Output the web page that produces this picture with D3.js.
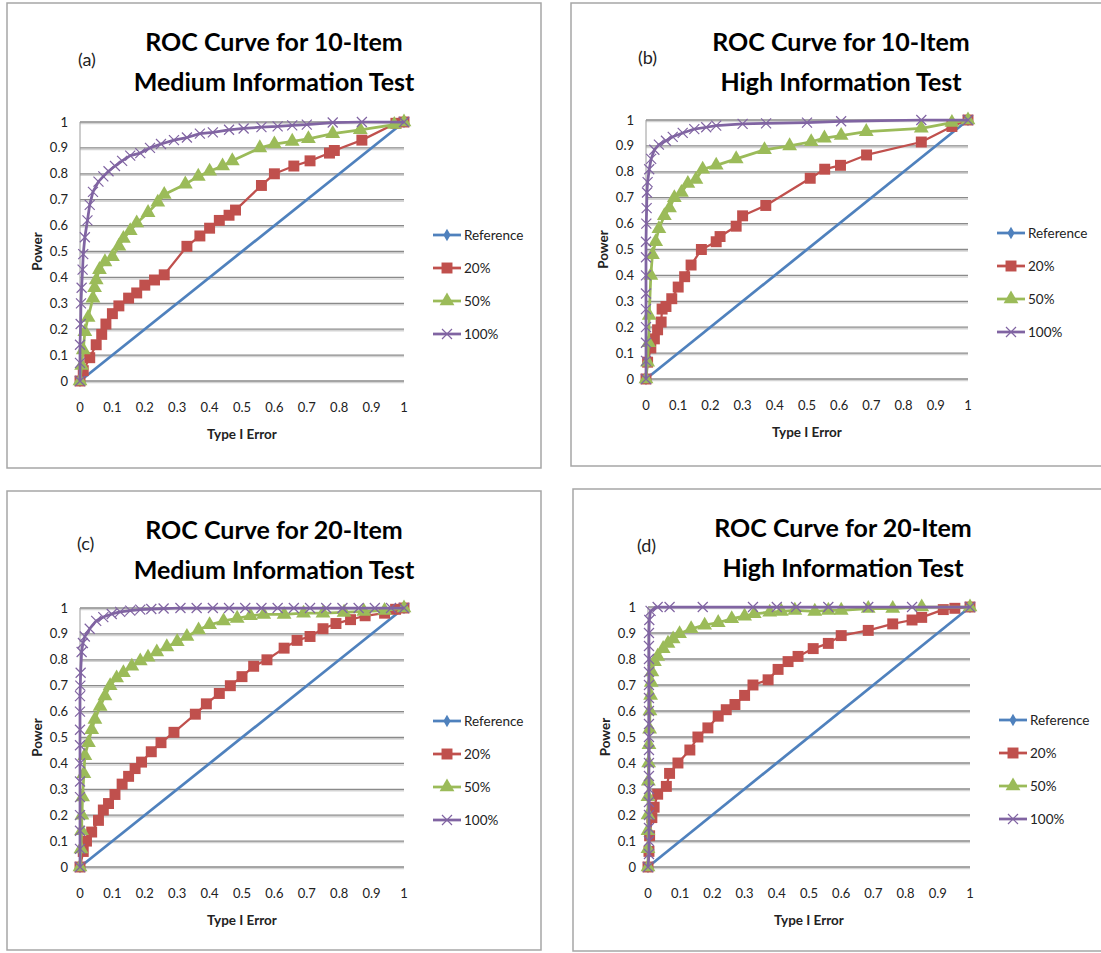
<!DOCTYPE html>
<html>
<head>
<meta charset="utf-8">
<script src="https://cdn.jsdelivr.net/npm/d3@7"></script>
<style>
  body { margin: 0; background: #fff; }
  svg { display: block; font-family: Lato, "Open Sans", sans-serif; }
</style>
</head>
<body>
<div id="chart"></div>
<script>
// ---- data ----

var xTicks = [0, 0.1, 0.2, 0.3, 0.4, 0.5, 0.6, 0.7, 0.8, 0.9, 1];
var yTicks = [0, 0.1, 0.2, 0.3, 0.4, 0.5, 0.6, 0.7, 0.8, 0.9, 1];
var seriesNames = ["Reference", "20%", "50%", "100%"];
var panelLetters = ["(a)", "(b)", "(c)", "(d)"];
var titleLine1 = ["ROC Curve for 10-Item", "ROC Curve for 10-Item", "ROC Curve for 20-Item", "ROC Curve for 20-Item"];
var titleLine2 = ["Medium Information Test", "High Information Test", "Medium Information Test", "High Information Test"];

var reference = [[0, 0], [1, 1]];

// (a) 10-item medium
var a20 = [[0,0],[0.01,0.04],[0.03,0.09],[0.05,0.14],[0.067,0.18],[0.08,0.22],[0.1,0.26],[0.12,0.29],[0.15,0.32],
  [0.175,0.34],[0.2,0.37],[0.23,0.39],[0.26,0.41],[0.33,0.52],[0.37,0.56],[0.4,0.59],[0.43,0.62],[0.46,0.64],
  [0.48,0.66],[0.56,0.755],[0.6,0.8],[0.66,0.83],[0.71,0.85],[0.77,0.88],[0.785,0.89],[0.87,0.93],[0.975,0.995],[1,1]];
var a50 = [[0,0],[0.005,0.06],[0.01,0.12],[0.015,0.19],[0.025,0.245],[0.04,0.32],[0.045,0.36],[0.05,0.39],[0.06,0.43],
  [0.077,0.46],[0.1,0.48],[0.12,0.52],[0.134,0.55],[0.155,0.58],[0.175,0.61],[0.21,0.65],[0.24,0.69],[0.26,0.72],
  [0.325,0.76],[0.365,0.79],[0.4,0.81],[0.44,0.83],[0.47,0.85],[0.555,0.9],[0.6,0.915],[0.655,0.925],[0.705,0.935],
  [0.78,0.955],[0.865,0.97],[0.97,0.99],[1,1]];
var a100 = [[0,0],[0,0.07],[0,0.14],[0.002,0.22],[0.003,0.3],[0.005,0.36],[0.008,0.43],[0.01,0.49],[0.015,0.555],
  [0.023,0.62],[0.03,0.68],[0.04,0.73],[0.057,0.77],[0.072,0.79],[0.088,0.81],[0.108,0.83],[0.13,0.85],[0.155,0.87],
  [0.186,0.88],[0.216,0.9],[0.25,0.915],[0.29,0.93],[0.33,0.94],[0.37,0.955],[0.41,0.96],[0.46,0.97],[0.505,0.975],
  [0.56,0.98],[0.61,0.983],[0.655,0.987],[0.7,0.99],[0.78,0.998],[0.87,1],[1,1]];

// (b) 10-item high
var b20 = [[0,0],[0.005,0.065],[0.015,0.12],[0.026,0.155],[0.036,0.19],[0.047,0.22],[0.05,0.27],[0.062,0.28],
  [0.08,0.31],[0.1,0.355],[0.12,0.395],[0.14,0.44],[0.172,0.5],[0.218,0.53],[0.23,0.55],[0.28,0.59],[0.3,0.63],
  [0.372,0.67],[0.51,0.775],[0.555,0.81],[0.604,0.825],[0.685,0.865],[0.855,0.915],[0.95,0.975],[1,1]];
var b50 = [[0,0],[0.005,0.065],[0.008,0.14],[0.01,0.245],[0.015,0.4],[0.02,0.48],[0.03,0.53],[0.04,0.58],
  [0.057,0.63],[0.073,0.66],[0.088,0.7],[0.11,0.72],[0.13,0.755],[0.155,0.77],[0.176,0.81],[0.218,0.825],
  [0.28,0.85],[0.368,0.885],[0.446,0.9],[0.513,0.916],[0.554,0.93],[0.606,0.94],[0.684,0.955],[0.855,0.968],
  [0.95,0.99],[1,1]];
var b100 = [[0,0],[0,0.07],[0,0.14],[0,0.2],[0,0.27],[0,0.33],[0,0.4],[0,0.47],[0,0.53],[0.001,0.6],[0.002,0.66],
  [0.003,0.72],[0.005,0.76],[0.01,0.81],[0.016,0.85],[0.026,0.885],[0.04,0.905],[0.062,0.92],[0.083,0.935],
  [0.114,0.95],[0.15,0.965],[0.187,0.972],[0.218,0.978],[0.3,0.985],[0.373,0.987],[0.5,0.99],[0.606,0.995],
  [0.855,1],[1,1]];

// (c) 20-item medium
var c20 = [[0,0],[0.01,0.06],[0.02,0.1],[0.036,0.135],[0.057,0.18],[0.072,0.22],[0.088,0.245],[0.108,0.28],
  [0.13,0.32],[0.15,0.35],[0.17,0.38],[0.19,0.405],[0.22,0.445],[0.25,0.48],[0.29,0.52],[0.356,0.59],[0.39,0.63],
  [0.43,0.67],[0.464,0.7],[0.5,0.735],[0.536,0.775],[0.577,0.8],[0.63,0.845],[0.67,0.875],[0.71,0.89],[0.75,0.92],
  [0.79,0.94],[0.835,0.955],[0.88,0.97],[0.94,0.98],[0.974,0.995],[1,1]];
var c50 = [[0,0],[0.003,0.07],[0.005,0.14],[0.006,0.2],[0.008,0.27],[0.012,0.36],[0.015,0.43],[0.026,0.48],
  [0.036,0.53],[0.046,0.57],[0.062,0.62],[0.077,0.66],[0.093,0.7],[0.113,0.73],[0.134,0.75],[0.16,0.775],
  [0.186,0.795],[0.21,0.81],[0.237,0.83],[0.268,0.85],[0.3,0.87],[0.33,0.89],[0.366,0.915],[0.4,0.935],
  [0.443,0.95],[0.485,0.96],[0.526,0.97],[0.567,0.975],[0.63,0.975],[0.69,0.98],[0.75,0.98],[0.815,0.983],
  [0.876,0.987],[0.94,0.99],[1,1]];
var c100 = [[0,0],[0,0.07],[0,0.14],[0,0.2],[0,0.27],[0,0.33],[0,0.4],[0,0.47],[0,0.53],[0,0.6],[0,0.66],[0.001,0.7],
  [0.002,0.75],[0.005,0.83],[0.009,0.865],[0.015,0.89],[0.03,0.92],[0.05,0.95],[0.072,0.965],[0.098,0.977],
  [0.124,0.985],[0.155,0.99],[0.186,0.994],[0.22,0.996],[0.258,0.998],[0.31,1],[0.36,1],[0.41,1],[0.46,1],
  [0.51,1],[0.56,1],[0.61,1],[0.66,1],[0.71,1],[0.76,1],[0.81,1],[0.86,1],[0.91,1],[0.96,1],[1,1]];

// (d) 20-item high
var d20 = [[0,0],[0.003,0.06],[0.005,0.12],[0.012,0.19],[0.019,0.23],[0.03,0.28],[0.057,0.31],[0.067,0.36],
  [0.093,0.4],[0.13,0.45],[0.155,0.5],[0.186,0.535],[0.218,0.58],[0.243,0.605],[0.27,0.625],[0.3,0.66],
  [0.326,0.7],[0.373,0.72],[0.404,0.76],[0.435,0.79],[0.466,0.81],[0.513,0.84],[0.56,0.86],[0.6,0.89],
  [0.684,0.91],[0.76,0.935],[0.82,0.95],[0.85,0.96],[0.917,0.99],[0.953,0.995],[1,1]];
var d50 = [[0,0],[0,0.07],[0,0.14],[0,0.2],[0,0.27],[0.001,0.33],[0.002,0.4],[0.003,0.47],[0.005,0.53],
  [0.006,0.6],[0.008,0.66],[0.01,0.71],[0.012,0.75],[0.02,0.79],[0.03,0.81],[0.047,0.84],[0.062,0.86],
  [0.078,0.877],[0.098,0.897],[0.134,0.916],[0.176,0.93],[0.218,0.94],[0.26,0.955],[0.3,0.965],[0.33,0.974],
  [0.378,0.98],[0.414,0.983],[0.456,0.987],[0.518,0.983],[0.56,0.987],[0.6,0.987],[0.684,0.994],[0.76,0.994],
  [0.85,1],[1,1]];
var d100 = [[0,0],[0.003,0.05],[0.003,0.1],[0.003,0.15],[0.003,0.2],[0.003,0.25],[0.003,0.3],[0.003,0.35],
  [0.003,0.4],[0.003,0.45],[0.003,0.5],[0.003,0.55],[0.003,0.6],[0.003,0.65],[0.003,0.7],[0.003,0.75],[0.003,0.8],
  [0.003,0.85],[0.003,0.9],[0.004,0.95],[0.008,0.985],[0.03,1],[0.067,1],[0.17,1],[0.326,1],[0.4,1],[0.46,1],
  [0.56,1],[0.684,1],[0.82,1],[1,1]];

var panelData = [
  [reference, a20, a50, a100],
  [reference, b20, b50, b100],
  [reference, c20, c50, c100],
  [reference, d20, d50, d100]
];

// ---- layout ----
var W = 1101, H = 953;
var panels = [
  {box: [7, 3, 534, 465], plot: [80, 404, 122, 381], letter: [78, 66]},
  {box: [571, 3, 540, 463], plot: [646, 968, 120, 379], letter: [638, 64]},
  {box: [7, 491, 534, 459], plot: [80, 404, 608, 867], letter: [77, 550]},
  {box: [573, 489, 540, 462], plot: [648, 970, 607, 867], letter: [637, 552]}
];
var colors = ["#4F81BD", "#C0504D", "#9BBB59", "#8064A2"];

var svg = d3.select("#chart").append("svg")
  .attr("width", W)
  .attr("height", H);

function marker(i) {
  if (i == 0) return d3.symbol().type(d3.symbolDiamond).size(45)();
  if (i == 1) return d3.symbol().type(d3.symbolSquare).size(120)();
  if (i == 2) return d3.symbol().type(d3.symbolTriangle).size(95)();
  return "M-5,-5L5,5M-5,5L5,-5";
}

panels.forEach(function(p, k) {
  var g = svg.append("g");

  // panel frame
  g.append("rect")
    .attr("x", p.box[0]).attr("y", p.box[1])
    .attr("width", p.box[2]).attr("height", p.box[3])
    .attr("fill", "#fff")
    .attr("stroke", "#a6a6a6")
    .attr("stroke-width", 1.5);

  var cx = p.box[0] + p.box[2] / 2;

  // title
  g.append("text")
    .attr("x", cx).attr("y", p.box[1] + 48)
    .attr("text-anchor", "middle")
    .attr("font-size", 25).attr("font-weight", "bold")
    .text(titleLine1[k]);
  g.append("text")
    .attr("x", cx).attr("y", p.box[1] + 88)
    .attr("text-anchor", "middle")
    .attr("font-size", 25).attr("font-weight", "bold")
    .text(titleLine2[k]);
  g.append("text")
    .attr("x", p.letter[0]).attr("y", p.letter[1])
    .attr("font-size", 18).attr("fill", "#222")
    .text(panelLetters[k]);

  var x = d3.scaleLinear().domain([0, 1]).range([p.plot[0], p.plot[1]]);
  var y = d3.scaleLinear().domain([0, 1]).range([p.plot[3], p.plot[2]]);

  // gridlines
  g.append("g").selectAll("line.shadow")
    .data(yTicks).enter().append("line")
    .attr("x1", x(0)).attr("x2", x(1))
    .attr("y1", function(d) { return y(d) + 1.5; })
    .attr("y2", function(d) { return y(d) + 1.5; })
    .attr("stroke", "#d4d4d4").attr("stroke-width", 1.5);
  g.append("g").selectAll("line.grid")
    .data(yTicks).enter().append("line")
    .attr("x1", x(0)).attr("x2", x(1))
    .attr("y1", function(d) { return y(d); })
    .attr("y2", function(d) { return y(d); })
    .attr("stroke", "#8a8a8a").attr("stroke-width", 1.3);
  g.append("line")
    .attr("x1", x(0)).attr("x2", x(0))
    .attr("y1", y(0)).attr("y2", y(1))
    .attr("stroke", "#9a9a9a").attr("stroke-width", 1);

  // tick labels
  g.append("g").selectAll("text")
    .data(yTicks).enter().append("text")
    .attr("x", x(0) - 12)
    .attr("y", function(d) { return y(d) + 4.5; })
    .attr("text-anchor", "end")
    .attr("font-size", 13).attr("fill", "#222")
    .text(function(d) { return d3.format("")(d); });
  g.append("g").selectAll("text")
    .data(xTicks).enter().append("text")
    .attr("x", function(d) { return x(d); })
    .attr("y", y(0) + 31)
    .attr("text-anchor", "middle")
    .attr("font-size", 13).attr("fill", "#222")
    .text(function(d) { return d3.format("")(d); });

  // axis titles
  g.append("text")
    .attr("x", (x(0) + x(1)) / 2).attr("y", y(0) + 58)
    .attr("text-anchor", "middle")
    .attr("font-size", 13.5).attr("font-weight", "bold").attr("fill", "#222")
    .text("Type I Error");
  g.append("text")
    .attr("transform", "translate(" + (x(0) - 38) + "," + ((y(0) + y(1)) / 2) + ") rotate(-90)")
    .attr("text-anchor", "middle")
    .attr("font-size", 13.5).attr("font-weight", "bold").attr("fill", "#222")
    .text("Power");

  // series
  var line = d3.line()
    .x(function(d) { return x(d[0]); })
    .y(function(d) { return y(d[1]); });

  panelData[k].forEach(function(series, i) {
    g.append("path")
      .datum(series)
      .attr("d", line)
      .attr("fill", "none")
      .attr("stroke", colors[i])
      .attr("stroke-width", i == 1 ? 2.25 : 2.75)
      .attr("stroke-linejoin", "round");
    g.append("g").selectAll("path")
      .data(series).enter().append("path")
      .attr("transform", function(d) { return "translate(" + x(d[0]) + "," + y(d[1]) + ")"; })
      .attr("d", marker(i))
      .attr("fill", i == 3 ? "none" : colors[i])
      .attr("stroke", colors[i])
      .attr("stroke-width", i == 3 ? 1.2 : 0);
  });

  // legend
  var lx = x(1) + 29;
  var ly = y(1) + 113;
  seriesNames.forEach(function(name, i) {
    var yy = ly + i * 33;
    g.append("line")
      .attr("x1", lx).attr("x2", lx + 28)
      .attr("y1", yy).attr("y2", yy)
      .attr("stroke", colors[i]).attr("stroke-width", 2.75);
    g.append("path")
      .attr("transform", "translate(" + (lx + 14) + "," + yy + ")")
      .attr("d", marker(i))
      .attr("fill", i == 3 ? "none" : colors[i])
      .attr("stroke", colors[i])
      .attr("stroke-width", i == 3 ? 1.2 : 0);
    g.append("text")
      .attr("x", lx + 31).attr("y", yy + 4.5)
      .attr("font-size", 13.5).attr("fill", "#222")
      .text(name);
  });
});
</script>
</body>
</html>
